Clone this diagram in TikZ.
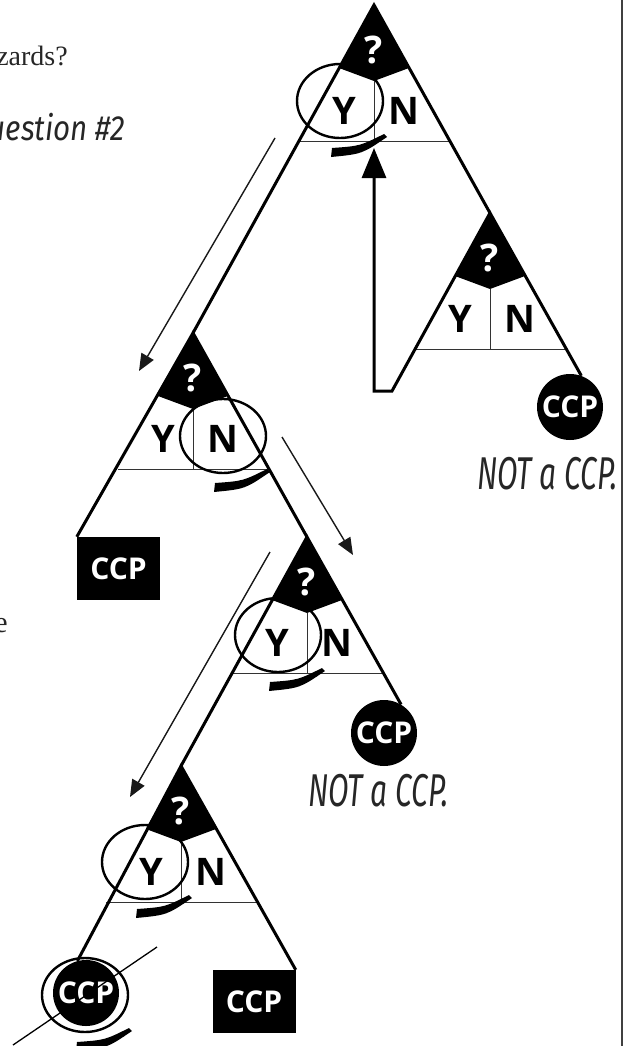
\documentclass[tikz,border=0pt]{standalone}
\usepackage{fontspec}
\setmainfont{Liberation Serif}
\newfontfamily\signfont{Open Sans}
\newfontfamily\handfont{Fira Sans}
\usetikzlibrary{arrows.meta,calc}

\begin{document}
\begin{tikzpicture}[x=1pt,y=-1pt,
    leg/.style={line width=3pt},
    thinline/.style={line width=0.9pt, draw=black!80},
    pointer/.style={line width=1.4pt, draw=black!90, -{Triangle[length=17pt,width=14pt]}},
    ring/.style={line width=2.4pt},
    letter/.style={inner sep=0pt, font=\signfont\bfseries\fontsize{38}{38}\selectfont},
    qmark/.style={letter, text=white},
    leafc/.style={circle, fill=black, minimum size=66pt, inner sep=0pt, text=white,
      font=\signfont\bfseries\fontsize{30}{30}\selectfont},
    leafs/.style={rectangle, fill=black, minimum width=83pt, minimum height=63pt, inner sep=0pt,
      text=white, font=\signfont\bfseries\fontsize{30}{30}\selectfont},
    note/.style={inner sep=0pt, xscale=0.65, text=black!85, font=\handfont\itshape\fontsize{46}{46}\selectfont}]
  \useasboundingbox (0,0) rectangle (636,1046);

  % page text cut off on the left
  \node[anchor=base east, inner sep=0pt, text=black!85, font=\fontsize{28}{28}\selectfont] (head) at (68,66) {zards?};
  \node[note, anchor=base east, xscale=1.3, font=\handfont\itshape\fontsize{35}{35}\selectfont] (qtitle) at (125,140) {Question \#2};
  \node[anchor=base east, inner sep=0pt, text=black!85, font=\fontsize{30}{30}\selectfont] (frag) at (8,632) {e};
  \draw[line width=1.2pt, black!75] (622,0) -- (622,1046);

  % question triangles
  \foreach \n/\px/\py in {qa/374/5, qb/193/333, qc/490/213, qd/307/537, qe/181/766} {
    \coordinate (\n) at (\px,\py);
    \fill (\n) -- ++(-35,63) -- ++(35,13) -- ++(35,-13) -- cycle;
    \draw[thinline] ($(\n)+(-75,136)$) -- ++(150,0);
    \draw[thinline] ($(\n)+(0,76)$) -- ++(0,60);
    \node[qmark] (\n-q) at ($(\n)+(0,45)$) {?};
    \node[letter] (\n-y) at ($(\n)+(-30,106)$) {Y};
    \node[letter] (\n-n) at ($(\n)+(30,106)$) {N};
  }

  % leaves
  \node[leafc] (c3) at (570,407) {CCP};
  \node[leafc] (c4) at (384,733) {CCP};
  \node[leafc] (c5) at (86,993) {CCP};
  \node[leafs] (s2) at (118.5,568.5) {CCP};
  \node[leafs] (s5) at (254,1001.5) {CCP};

  \node[note, anchor=base west] (n3) at (477,489) {NOT a CCP.};
  \node[note, anchor=base west] (n4) at (308,806) {NOT a CCP.};

  % tree legs
  \draw[leg] (qb) -- (qa) -- (qc);
  \draw[leg] (s2.north west) -- (qb) -- (qd);
  \draw[leg] (qe) -- (qd) -- (c4.59);
  \draw[leg] (c5.105) -- (qe) -- (s5.north east);
  \coordinate (turn) at (392,391);
  \coordinate (corner) at (374,391);
  \coordinate (back) at (374,148);
  \draw[leg, -{Triangle[length=30pt,width=24pt]}] (c3.70) -- (qc) -- (turn) -- (corner) -- (back);

  % pointers
  \coordinate (p1) at (275,138); \coordinate (p1e) at (139,371);
  \coordinate (p2) at (282,437); \coordinate (p2e) at (353,555);
  \coordinate (p3) at (270,552); \coordinate (p3e) at (130,797);
  \draw[pointer] (p1) -- (p1e);
  \draw[pointer] (p2) -- (p2e);
  \draw[pointer] (p3) -- (p3e);

  % hand drawn rings
  \foreach \cx/\cy in {340/101, 223/436, 278/635, 145/862, 85/995} {
    \begin{scope}[shift={(\cx,\cy)}]
      \draw[ring] (0,0) ellipse (43 and 37);
      \fill (44,33) .. controls (20,45) .. (-8,47) -- (-9,56) .. controls (22,53) .. (47,36) -- cycle;
    \end{scope}
  }
  \draw[line width=1.3pt] (13,1045) -- (157,947);
\end{tikzpicture}
\end{document}
